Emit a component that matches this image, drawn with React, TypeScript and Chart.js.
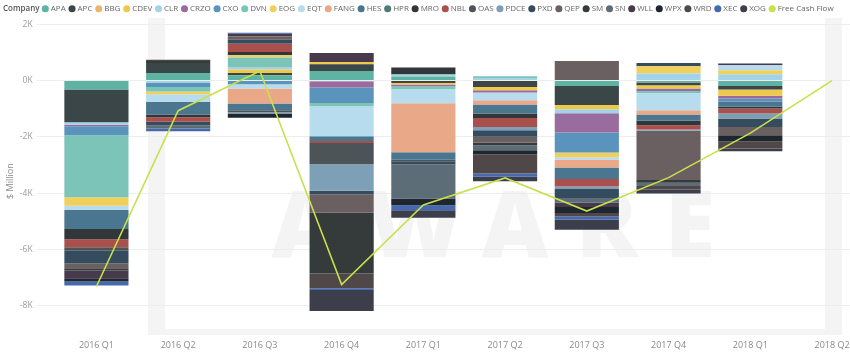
import React, { useEffect, useRef } from 'react';
import { Chart, registerables } from 'chart.js';

Chart.register(...registerables);

// ---- data ($ million) ----
const quarters = ['2016 Q1', '2016 Q2', '2016 Q3', '2016 Q4', '2017 Q1', '2017 Q2', '2017 Q3', '2017 Q4', '2018 Q1', '2018 Q2'];
const yTicks = [-8000, -6000, -4000, -2000, 0, 2000];

const companies = ['APA', 'APC', 'BBG', 'CDEV', 'CLR', 'CRZO', 'CXO', 'DVN', 'EOG', 'EQT', 'FANG', 'HES', 'HPR', 'MRO', 'NBL', 'OAS', 'PDCE', 'PXD', 'QEP', 'SM', 'SN', 'WLL', 'WPX', 'WRD', 'XEC', 'XOG'];

const APA = [-320, 272, 189, 343, 142, 0, -189, -71, -189, 0];
const APC = [-1160, 355, 83, 237, -83, -225, -675, -95, -130, 0];
const BBG = [0, 0, 0, 0, 0, 0, 0, 0, 0, 0];
const CDEV = [0, 0, 118, 83, -59, -118, -154, -118, -225, 0];
const CLR = [-90, -83, 95, -25, 70, 90, -142, 249, 225, 0];
const CRZO = [-50, 0, 0, -225, -59, -83, -686, -83, -95, 0];
const CXO = [-320, -142, -130, -545, 0, 0, -710, 0, -118, 0];
const DVN = [-2210, -165, 331, -118, -95, 60, 0, -71, 0, 0];
const EOG = [-295, -95, 83, 0, 0, 0, -166, 260, 142, 0];
const EQT = [-155, -272, -154, -1065, -509, -272, -95, -615, 178, 0];
const FANG = [0, 0, -532, 0, -1740, -154, -272, -154, 0, 0];
const HES = [-675, -450, -237, -166, -272, -320, -414, -225, -178, 0];
const HPR = [0, 0, 0, 0, 0, 0, 0, 0, 0, 0];
const MRO = [-365, -95, 118, 0, 250, -154, 0, -154, -59, 0];
const NBL = [-285, -165, 296, -71, 0, -320, -260, -154, -178, 0];
const OAS = [-120, 0, -71, -757, -47, 0, 0, 0, 0, 0];
const PDCE = [0, 0, -47, -947, 0, -118, -95, -47, -178, 0];
const PXD = [-450, -118, 142, -118, -118, -237, -320, 118, -296, 0];
const QEP = [-178, 0, 118, -663, 0, -201, 697, -1751, -296, 0];
const SM = [-80, 70, 0, -2154, 0, -95, 0, -95, 0, 0];
const SN = [0, -118, 0, 0, -1210, -178, -154, -118, 0, 0];
const WLL = [-270, 0, 90, 320, 0, 0, -166, 0, 59, 0];
const WPX = [-118, 0, -154, 0, -237, -154, -213, 0, -213, 0];
const WRD = [0, 47, 0, -532, 0, -675, -118, -118, -260, 0];
const XEC = [-142, -95, 40, -59, -178, -118, -118, 0, 0, 0];
const XOG = [0, 0, 0, -746, -272, -154, -355, -142, -95, 0];

const freeCashFlow = [-7320, -1070, 340, -7250, -4420, -3460, -4640, -3450, -1870, 0];

const seriesByCompany: Record<string, number[]> = {
  APA, APC, BBG, CDEV, CLR, CRZO, CXO, DVN, EOG, EQT, FANG, HES, HPR, MRO, NBL, OAS, PDCE, PXD, QEP, SM, SN, WLL, WPX, WRD, XEC, XOG,
};

// ---- styles ----
const palette: Record<string, string> = {
  APA: '#5FB3A2', APC: '#3A4648', BBG: '#EDB46F', CDEV: '#EFC94C', CLR: '#A3D3E8', CRZO: '#996B9E',
  CXO: '#5A94BC', DVN: '#7DC4B8', EOG: '#F0D05C', EQT: '#B7DCEE', FANG: '#E9A989', HES: '#4A7690',
  HPR: '#4E7B74', MRO: '#313638', NBL: '#A94F4C', OAS: '#4D5457', PDCE: '#7DA0B6', PXD: '#344C5E',
  QEP: '#6B6061', SM: '#353A3B', SN: '#5D6D78', WLL: '#463A4C', WPX: '#1E2630', WRD: '#4F4748',
  XEC: '#4569AE', XOG: '#3C3E4C',
};
const fcfColor = '#C9E04C';
const FONT = '"Open Sans", "Noto Sans", sans-serif';

const watermark = {
  id: 'watermark',
  beforeDraw(chart: any) {
    const { ctx } = chart;
    ctx.save();
    ctx.fillStyle = '#F4F4F4';
    ctx.fillRect(148, 18, 17, 317);
    ctx.fillRect(825, 18, 17, 317);
    ctx.fillRect(148, 329, 694, 6);
    ctx.font = `800 92px ${FONT}`;
    ctx.textAlign = 'center';
    ctx.textBaseline = 'alphabetic';
    const letters = ['A', 'W', 'A', 'R', 'E'];
    const xs = [305, 415, 515, 607, 690];
    letters.forEach((l, i) => ctx.fillText(l, xs[i], 257));
    ctx.restore();
  },
};

const legendTitle = {
  id: 'legendTitle',
  beforeInit(chart: any) {
    const lg = chart.legend;
    if (lg && !lg.__patched) {
      const origFit = lg.fit;
      lg.fit = function (this: any) {
        origFit.call(this);
        this.height += 1.5;
      };
      lg.__patched = true;
    }
  },
  afterLayout(chart: any) {
    const lg = chart.legend;
    if (lg) {
      lg.left = 39;
    }
  },
  afterDraw(chart: any) {
    const { ctx } = chart;
    ctx.save();
    ctx.font = `600 8px ${FONT}`;
    ctx.fillStyle = '#555555';
    ctx.textBaseline = 'middle';
    ctx.textAlign = 'left';
    ctx.fillText('Company', 3, 8.5);
    ctx.restore();
  },
};

export default function App() {
  const canvasRef = useRef<HTMLCanvasElement | null>(null);

  useEffect(() => {
    if (!canvasRef.current) return;
    const barSets = companies.map((name) => ({
      type: 'bar' as const,
      label: name,
      data: seriesByCompany[name].map((v, i) => ({ x: i, y: v })),
      backgroundColor: palette[name],
      borderWidth: 0,
      barPercentage: 0.785,
      categoryPercentage: 1,
      order: 1,
    }));
    const lineSet = {
      type: 'line' as const,
      label: 'Free Cash Flow',
      data: freeCashFlow.map((v, i) => ({ x: i, y: v })),
      borderColor: fcfColor,
      backgroundColor: fcfColor,
      borderWidth: 1.6,
      pointRadius: 0,
      tension: 0,
      stack: 'fcf',
      order: 0,
    };

    const chart = new Chart(canvasRef.current, {
      type: 'bar',
      data: { datasets: [...barSets, lineSet] as any },
      plugins: [legendTitle, watermark],
      options: {
        animation: false,
        responsive: true,
        maintainAspectRatio: false,
        layout: { padding: { top: 0, right: 0, bottom: 0, left: 0 } },
        plugins: {
          tooltip: { enabled: false },
          legend: {
            display: true,
            position: 'top',
            align: 'start',
            labels: {
              usePointStyle: true,
              pointStyle: 'circle',
              boxWidth: 3,
              boxHeight: 5,
              padding: 4.8,
              color: '#666666',
              font: { size: 8, family: FONT },
              sort: (a: any, b: any) => a.datasetIndex - b.datasetIndex,
              generateLabels: (ch: any) =>
                ch.data.datasets.map((ds: any, i: number) => ({
                  text: ds.label,
                  fillStyle: ds.backgroundColor,
                  strokeStyle: ds.backgroundColor,
                  lineWidth: 0,
                  pointStyle: 'circle',
                  hidden: false,
                  datasetIndex: i,
                  fontColor: '#666666',
                })),
            },
          },
        },
        scales: {
          x: {
            type: 'linear',
            stacked: true,
            offset: false,
            min: -0.732,
            max: 9.22,
            grid: { display: false, drawTicks: false, offset: false },
            border: { display: false },
            afterBuildTicks: (scale: any) => {
              scale.ticks = quarters.map((_, i) => ({ value: i }));
            },
            afterFit: (scale: any) => {
              scale.paddingLeft = 0;
              scale.paddingRight = 0;
            },
            ticks: {
              autoSkip: false,
              maxRotation: 0,
              color: '#8a8a8a',
              padding: 1.6,
              font: { size: 9, family: FONT },
              callback: (v: any) => quarters[v as number] ?? '',
            },
          },
          y: {
            stacked: true,
            min: -9150,
            max: 2000,
            grid: { color: '#EDEDED', drawTicks: false },
            border: { display: false },
            afterBuildTicks: (scale: any) => {
              scale.ticks = yTicks.map((v) => ({ value: v }));
            },
            ticks: {
              color: '#9a9a9a',
              padding: 4,
              font: { size: 8.5, family: FONT },
              callback: (v: any) => `${(v as number) / 1000}K`,
            },
            title: {
              display: true,
              text: '$ Million',
              color: '#8a8a8a',
              padding: { top: 5, bottom: 0 },
              font: { size: 9, family: FONT },
            },
          },
        },
      },
    });
    return () => chart.destroy();
  }, []);

  return (
    <div style={{ position: 'absolute', left: 0, top: 0, width: 850, height: 352, background: '#ffffff' }}>
      <canvas ref={canvasRef} />
    </div>
  );
}
